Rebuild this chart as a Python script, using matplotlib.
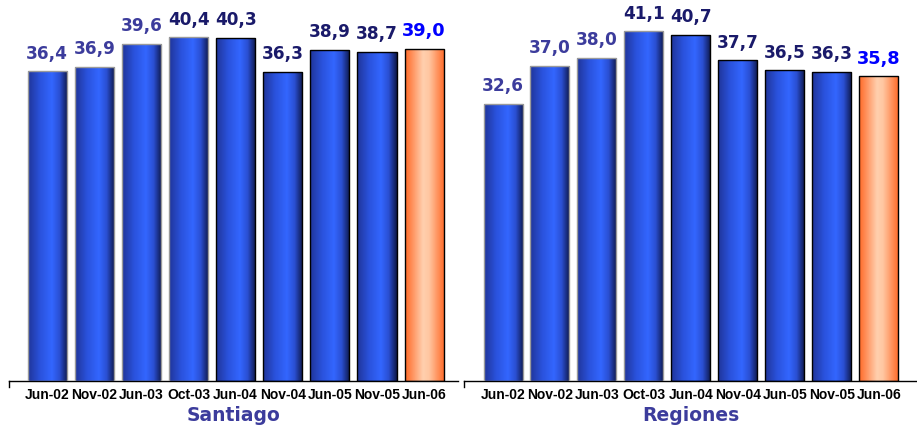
import numpy as np
import matplotlib
matplotlib.use("Agg")
import matplotlib.pyplot as plt
from matplotlib.colors import LinearSegmentedColormap

periods = ["Jun-02", "Nov-02", "Jun-03", "Oct-03", "Jun-04",
           "Nov-04", "Jun-05", "Nov-05", "Jun-06"]
santiago = [36.4, 36.9, 39.6, 40.4, 40.3, 36.3, 38.9, 38.7, 39.0]
regiones = [32.6, 37.0, 38.0, 41.1, 40.7, 37.7, 36.5, 36.3, 35.8]
panel_titles = ["Santiago", "Regiones"]

blue_cm = LinearSegmentedColormap.from_list(
    "bl", [(0, "#20359a"), (0.3, "#2a52dc"), (0.6, "#3366ff"),
           (0.8, "#2a4fd2"), (1, "#0e184c")])
orange_cm = LinearSegmentedColormap.from_list(
    "or", [(0, "#ff6a28"), (0.45, "#ffcfae"), (0.6, "#ffc7a2"), (1, "#ff6a28")])

label_cols = ["#3c3c9c"] * 3 + ["#1a1a6a"] * 5 + ["#0000ff"]
edge_cols = ["#9a9a9a"] * 4 + ["#000000"] * 5

plt.rcParams['font.family'] = ['DejaVu Sans']
fig = plt.figure(figsize=(9.17, 4.27), dpi=100)

panels = [(9, 458, -0.81, 8.72), (464, 917, -0.83, 8.81)]
grad = np.linspace(0, 1, 64).reshape(1, -1)

for p, (vals, title) in enumerate(zip([santiago, regiones], panel_titles)):
    x0, x1, xl, xr = panels[p]
    ax = fig.add_axes([x0 / 917, (427 - 382) / 427, (x1 - x0) / 917, 382 / 427])
    x = np.arange(len(vals))
    bars = ax.bar(x, vals, width=0.83, color="none", zorder=3)
    for i, b in enumerate(bars):
        bx, by = b.get_x(), b.get_y()
        w, h = b.get_width(), b.get_height()
        cm = orange_cm if i == len(vals) - 1 else blue_cm
        im = ax.imshow(grad, cmap=cm, extent=[bx, bx + w, by, by + h],
                       aspect="auto", zorder=2)
        im.set_clip_path(b)
        b.set_edgecolor(edge_cols[i])
        b.set_linewidth(1.0)
        fs = 12.8 if i == len(vals) - 1 else 12.2
        ax.annotate(f"{vals[i]:.1f}".replace(".", ","), (x[i], vals[i]),
                    xytext=(0, 7), textcoords="offset points", ha="center",
                    va="bottom", fontsize=fs, fontweight="bold",
                    color=label_cols[i])
    ax.set_xlim(xl, xr)
    ax.set_ylim(0, 44.9)
    for s in ["top", "right", "left"]:
        ax.spines[s].set_visible(False)
    ax.spines["bottom"].set_linewidth(1.0)
    ax.plot([xl, xl], [0, -0.7], color="black", lw=1.0, clip_on=False)
    ax.set_yticks([])
    ax.set_xticks(x)
    ax.set_xticklabels(periods, fontsize=10, fontweight="bold",
                       family="Liberation Sans")
    ax.tick_params(axis="x", length=0, pad=4)
    ax.set_xlabel(title, fontsize=13.5, fontweight="bold", color="#3c3c9c",
                  labelpad=3)

fig.savefig("out.png", dpi=100)
